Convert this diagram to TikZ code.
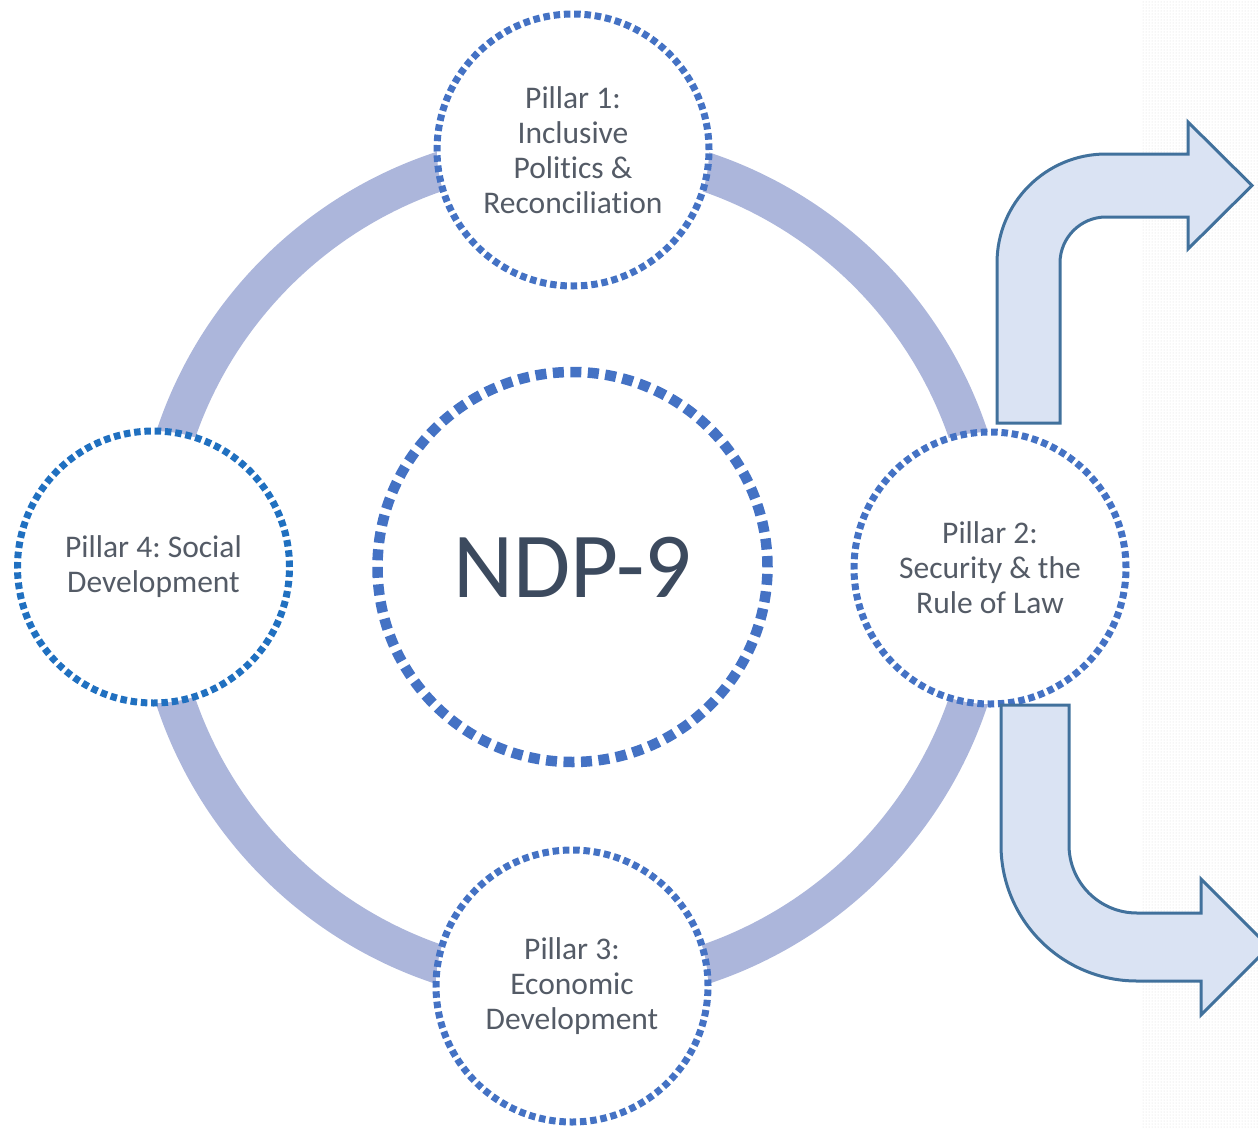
\documentclass[tikz,border=0pt]{standalone}
\usepackage{fontspec}
\setmainfont{Carlito}[Ligatures={NoCommon}]
\usetikzlibrary{patterns}
\definecolor{ringc}{HTML}{ACB6DB}
\definecolor{dotblue}{HTML}{4472C4}
\definecolor{dotblue2}{HTML}{2070C0}
\definecolor{txt}{HTML}{545B66}
\definecolor{ndptxt}{HTML}{3C4A5E}
\definecolor{arrfill}{HTML}{DAE3F3}
\definecolor{arrline}{HTML}{41719C}
\tikzset{
  ringstyle/.style={draw=ringc, line width=39pt},
  pillar/.style={circle, draw=dotblue, fill=white, line width=7pt,
    dash pattern=on 6.5pt off 3.8pt, minimum size=272pt, inner sep=0pt,
    align=center, text=txt, font=\fontsize{31.5}{35}\selectfont},
  hub/.style={circle, draw=dotblue, line width=10.5pt,
    dash pattern=on 11pt off 6.5pt, minimum size=390pt, inner sep=0pt,
    text=ndptxt, font=\fontsize{93}{100}\selectfont},
  bentarrow/.style={fill=arrfill, draw=arrline, line width=3pt, line join=miter},
}
\begin{document}
\frenchspacing
\begin{tikzpicture}[x=1pt,y=-1pt]
\useasboundingbox (0,0) rectangle (1258,1127);
% textured strip on the right
\fill[pattern=dots, pattern color=black!16] (1142,0) rectangle (1258,1127);
% ring
\draw[ringstyle] (572,568) circle[radius=418pt];
% hub
\node[hub] (ndp) at (572.5,567) {NDP-9};
% pillars
\node[pillar] (p1) at (573,150) {Pillar 1:\\Inclusive\\Politics \&\\Reconciliation};
\node[pillar] (p2) at (990,568) {Pillar 2:\\Security \& the\\Rule of Law};
\node[pillar] (p3) at (572,986) {Pillar 3:\\Economic\\Development};
\node[pillar, draw=dotblue2] (p4) at (153.5,567) {Pillar 4: Social\\Development};
% upper bent arrow
\draw[bentarrow] (997,423) -- (997,263)
  arc[start angle=180, end angle=90, radius=109pt]
  -- (1188,154) -- (1188,122) -- (1252,185.5) -- (1188,249) -- (1188,217)
  -- (1106,217)
  arc[start angle=90, end angle=180, radius=46pt]
  -- (1060,423) -- cycle;
% lower bent arrow
\draw[bentarrow] (1001,705) -- (1001,845)
  arc[start angle=180, end angle=270, radius=136pt]
  -- (1201,981) -- (1201,1015) -- (1269,947) -- (1201,879) -- (1201,913)
  -- (1137,913)
  arc[start angle=270, end angle=180, radius=68pt]
  -- (1069,705) -- cycle;
\end{tikzpicture}
\end{document}
